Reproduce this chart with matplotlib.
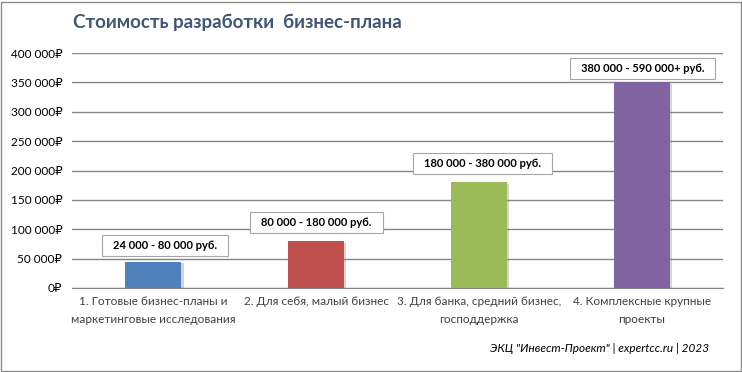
import matplotlib
matplotlib.use("Agg")
import matplotlib.pyplot as plt
import matplotlib.patheffects as pe
from matplotlib.patches import Rectangle
from matplotlib.transforms import IdentityTransform

plt.rcParams['font.family'] = ['Lato', 'DejaVu Sans']

categories = ["1. Готовые бизнес-планы и\nмаркетинговые исследования",
              "2. Для себя, малый бизнес",
              "3. Для банка, средний бизнес,\nгосподдержка",
              "4. Комплексные крупные\nпроекты"]
values = [45000, 80000, 180000, 350000]
range_labels = ["24 000 - 80 000 руб.", "80 000 - 180 000 руб.",
                "180 000 - 380 000 руб.", "380 000 - 590 000+ руб."]
colors = ["#4F81BD", "#C0504D", "#9BBB59", "#8064A2"]
yticks = [0, 50000, 100000, 150000, 200000, 250000, 300000, 350000, 400000]
ytick_labels = ["0₽", "50 000₽", "100 000₽", "150 000₽", "200 000₽",
                "250 000₽", "300 000₽", "350 000₽", "400 000₽"]
title = "Стоимость разработки  бизнес-плана"
footer = 'ЭКЦ "Инвест-Проект" | expertcc.ru | 2023'

fig = plt.figure(figsize=(7.42, 3.72), dpi=100)
ax = fig.add_axes([72/742, 1-288/372, (723-72)/742, (288-53)/372])

x = list(range(len(categories)))
bars = ax.bar(x, values, width=0.345, color=colors, zorder=3)
for b in bars:
    b.set_path_effects([pe.SimplePatchShadow(offset=(1.5, -1.2), shadow_rgbFace='#888888', alpha=0.35), pe.Normal()])

ax.set_xlim(-0.5, 3.5)
ax.set_ylim(0, 400000)
ax.set_yticks(yticks)
ax.set_yticklabels(ytick_labels)
ax.set_xticks(x)
ax.set_xticklabels(categories)
ax.tick_params(axis='y', length=0, pad=7, labelsize=8.5, labelcolor='#000000')
ax.tick_params(axis='x', length=0, pad=6, labelsize=8.5, labelcolor='#404040')
for lbl in ax.get_xticklabels():
    lbl.set_linespacing(1.75)
ax.grid(axis='y', color='#868686', linewidth=1, zorder=0)
for s in ['left', 'right', 'top']:
    ax.spines[s].set_visible(False)
ax.spines['bottom'].set_color('#868686')
ax.set_facecolor('none')

# label offsets (points) of box centre relative to bar top centre
offsets = [(8.6, 11.5), (0.4, 13.3), (2.9, 13.5), (0.7, 10.0)]
texts = []
for i, (v, lab) in enumerate(zip(values, range_labels)):
    t = ax.annotate(lab, xy=(i, v), xytext=offsets[i], textcoords='offset points',
                    ha='center', va='center', fontsize=8, fontweight='bold', color='#000000',
                    zorder=6)
    texts.append(t)

fig.text(73/742, 1-22/372, title, fontsize=13.5, fontweight='bold', color='#3F5773',
         ha='left', va='center')
fig.text(709/742, 1-348/372, footer, fontsize=8.5, style='italic', color='#000000',
         ha='right', va='center')

fig.canvas.draw()
r = fig.canvas.get_renderer()
for t in texts:
    bb = t.get_window_extent(r)
    cx = (bb.x0 + bb.x1) / 2
    cy = (bb.y0 + bb.y1) / 2
    w = bb.width + 22
    h = 21
    rect = Rectangle((cx - w/2, cy - h/2), w, h, transform=IdentityTransform(),
                     facecolor='white', edgecolor='#A6A6A6', linewidth=0.8, zorder=5,
                     clip_on=False)
    ax.add_patch(rect)

fig.patches.append(Rectangle((1/742, 1/372), 740/742, 369/372, transform=fig.transFigure,
                             fill=False, edgecolor='#8C8C8C', linewidth=1))

fig.savefig("out.png", dpi=100, facecolor='white')
